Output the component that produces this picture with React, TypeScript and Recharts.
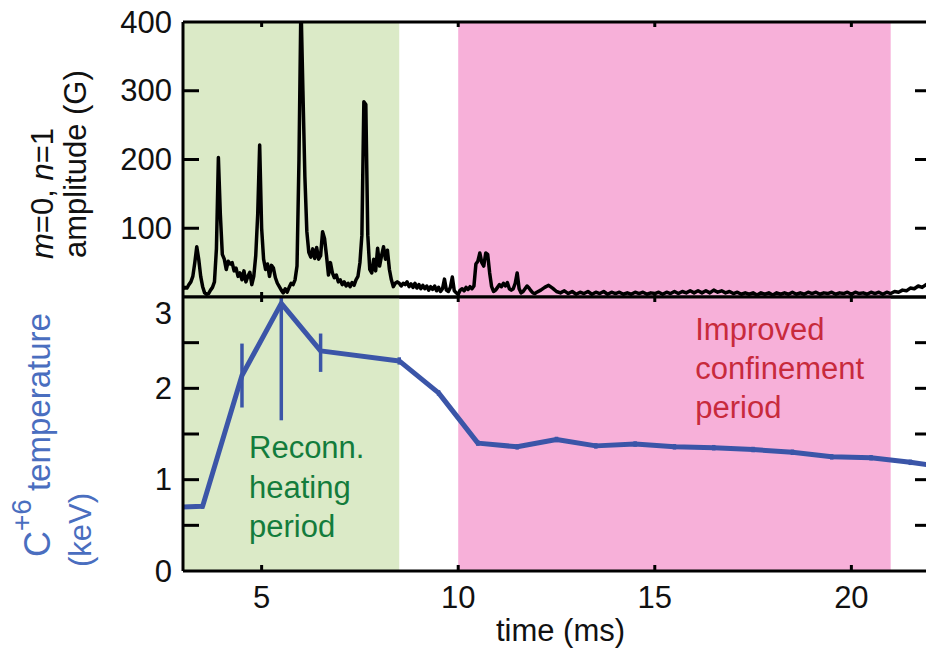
import React from 'react';
import { LineChart, Line, XAxis, YAxis, ReferenceArea, ErrorBar } from 'recharts';

const FONT = '"Liberation Sans", Arial, Helvetica, sans-serif';
const FS = 31;

// ---------- data ----------
const timeDomain: [number, number] = [3, 22];
const timeTicks = [5, 10, 15, 20];
const ampDomain: [number, number] = [0, 400];
const ampTicks = [100, 200, 300, 400];
const ampRightTicks = [100, 200, 300];
const tempDomain: [number, number] = [0, 3];
const tempTicks = [0, 0.5, 1, 1.5, 2, 2.5, 3];
const tempRightTicks = [0.5, 1, 1.5, 2, 2.5];
const reconnPeriod: [number, number] = [3, 8.5];
const confinementPeriod: [number, number] = [10, 21];

// m=0, n=1 amplitude (G) vs time (ms)
const ampSignal: [number, number][] = [
  [3.0, 12], [3.05, 14], [3.1, 13], [3.15, 18], [3.2, 22], [3.25, 30], [3.3, 50], [3.35, 73], [3.4, 55], [3.45, 30],
  [3.5, 15], [3.55, 6], [3.6, 4], [3.65, 5], [3.7, 10], [3.75, 14], [3.8, 22], [3.85, 70], [3.9, 203], [3.95, 120],
  [4.0, 62], [4.05, 55], [4.1, 40], [4.15, 52], [4.2, 48], [4.25, 50], [4.3, 38], [4.35, 42], [4.4, 30], [4.45, 35],
  [4.5, 25], [4.55, 38], [4.6, 22], [4.65, 30], [4.7, 36], [4.75, 18], [4.8, 30], [4.85, 60], [4.9, 120], [4.95, 221],
  [5.0, 100], [5.05, 55], [5.1, 40], [5.15, 48], [5.2, 30], [5.25, 46], [5.3, 42], [5.35, 28], [5.4, 20], [5.45, 15],
  [5.5, 10], [5.55, 6], [5.6, 12], [5.65, 7], [5.7, 14], [5.75, 20], [5.8, 18], [5.85, 25], [5.9, 45], [5.95, 200],
  [6.0, 430], [6.05, 300], [6.1, 175], [6.15, 95], [6.2, 65], [6.25, 58], [6.3, 70], [6.35, 56], [6.4, 72], [6.45, 55],
  [6.5, 60], [6.55, 95], [6.6, 85], [6.65, 60], [6.7, 32], [6.75, 50], [6.8, 35], [6.85, 28], [6.9, 32], [6.95, 22],
  [7.0, 25], [7.05, 18], [7.1, 22], [7.15, 16], [7.2, 20], [7.25, 15], [7.3, 21], [7.35, 17], [7.4, 25], [7.45, 30],
  [7.5, 50], [7.55, 90], [7.6, 284], [7.65, 280], [7.7, 90], [7.75, 40], [7.8, 35], [7.85, 55], [7.9, 38], [7.95, 71],
  [8.0, 45], [8.05, 60], [8.1, 73], [8.15, 55], [8.2, 68], [8.25, 40], [8.3, 25], [8.35, 15], [8.4, 20], [8.45, 22],
  [8.5, 20], [8.55, 16], [8.6, 20], [8.65, 18], [8.7, 22], [8.75, 15], [8.8, 19], [8.85, 14], [8.9, 20], [8.95, 13],
  [9.0, 18], [9.05, 12], [9.1, 17], [9.15, 12], [9.2, 16], [9.25, 10], [9.3, 15], [9.35, 11], [9.4, 16], [9.45, 9],
  [9.5, 14], [9.55, 8], [9.6, 12], [9.65, 26], [9.7, 10], [9.75, 8], [9.8, 14], [9.85, 29], [9.9, 9], [9.95, 6],
  [10.0, 4], [10.05, 10], [10.1, 12], [10.15, 9], [10.2, 14], [10.25, 11], [10.3, 15], [10.35, 12], [10.4, 16], [10.45, 48],
  [10.5, 52], [10.55, 64], [10.6, 50], [10.65, 45], [10.7, 64], [10.75, 62], [10.8, 35], [10.85, 15], [10.9, 8], [10.95, 10],
  [11.0, 14], [11.05, 18], [11.1, 15], [11.15, 20], [11.2, 16], [11.25, 21], [11.3, 12], [11.35, 10], [11.4, 12], [11.45, 20],
  [11.5, 35], [11.55, 12], [11.6, 6], [11.65, 8], [11.7, 12], [11.75, 16], [11.8, 13], [11.85, 9], [11.9, 6], [11.95, 5],
  [12.0, 7], [12.1, 10], [12.2, 14], [12.3, 17], [12.4, 13], [12.5, 8], [12.6, 6], [12.7, 9], [12.8, 5], [12.9, 8],
  [13.0, 4], [13.1, 7], [13.2, 5], [13.3, 8], [13.4, 4], [13.5, 7], [13.6, 5], [13.7, 8], [13.8, 4], [13.9, 7],
  [14.0, 5], [14.1, 7], [14.2, 4], [14.3, 6], [14.4, 4], [14.5, 7], [14.6, 5], [14.7, 7], [14.8, 4], [14.9, 6],
  [15.0, 5], [15.1, 7], [15.2, 4], [15.3, 7], [15.4, 5], [15.5, 8], [15.6, 5], [15.7, 8], [15.8, 6], [15.9, 9],
  [16.0, 6], [16.1, 9], [16.2, 6], [16.3, 9], [16.4, 6], [16.5, 10], [16.6, 7], [16.7, 9], [16.8, 6], [16.9, 8],
  [17.0, 5], [17.1, 7], [17.2, 4], [17.3, 6], [17.4, 4], [17.5, 6], [17.6, 3], [17.7, 6], [17.8, 4], [17.9, 6],
  [18.0, 3], [18.1, 6], [18.2, 4], [18.3, 6], [18.4, 4], [18.5, 7], [18.6, 4], [18.7, 6], [18.8, 4], [18.9, 7],
  [19.0, 5], [19.1, 7], [19.2, 4], [19.3, 6], [19.4, 5], [19.5, 7], [19.6, 4], [19.7, 6], [19.8, 5], [19.9, 7],
  [20.0, 4], [20.1, 7], [20.2, 5], [20.3, 6], [20.4, 4], [20.5, 7], [20.6, 5], [20.7, 7], [20.8, 4], [20.9, 7],
  [21.0, 5], [21.1, 8], [21.2, 7], [21.3, 10], [21.4, 9], [21.5, 13], [21.6, 12], [21.7, 16], [21.8, 14], [21.9, 18],
  [22.0, 16],
];

// C+6 temperature (keV)
const tempTime = [3.0, 3.5, 4.5, 5.5, 6.5, 8.5, 9.5, 10.5, 11.5, 12.5, 13.5, 14.5, 15.5, 16.5, 17.5, 18.5, 19.5, 20.5, 21.5, 22.5];
const tempValue = [0.70, 0.71, 2.14, 2.93, 2.41, 2.30, 1.95, 1.40, 1.36, 1.44, 1.37, 1.39, 1.36, 1.35, 1.33, 1.30, 1.25, 1.24, 1.19, 1.13];
const tempErrLow = [0, 0.03, 0.35, 1.28, 0.23, 0.04, 0.03, 0.03, 0.03, 0.03, 0.03, 0.03, 0.03, 0.03, 0.03, 0.03, 0.03, 0.03, 0.03, 0.03];
const tempErrHigh = [0, 0.03, 0.35, 0.07, 0.19, 0.04, 0.03, 0.03, 0.03, 0.03, 0.03, 0.03, 0.03, 0.03, 0.03, 0.03, 0.03, 0.03, 0.03, 0.03];

const ampData = ampSignal.map(([t, v]) => ({ t, v }));
const tempData = tempTime.map((t, i) => ({ t, T: tempValue[i], err: [tempErrLow[i], tempErrHigh[i]] }));

// ---------- styles ----------
const GREEN_BG = '#dbeac7';
const PINK_BG = '#f7b0d9';
const BLUE = '#3b55a8';
const LABEL_BLUE = '#4a6ebf';
const GREEN_TXT = '#137c3c';
const RED_TXT = '#c82a3c';

const CHART_W = 940;
const LEFT_W = 183;
const RIGHT_W = 10;

// ---------- tick renderers ----------
const makeLeftTick = (len: number, lineSkip: number[], labelVals: number[], labelShift: Record<string, number>) =>
  (props: any) => {
    const { x, y, payload } = props;
    const v = payload.value;
    const shift = labelShift[String(v)] || 0;
    return (
      <g>
        {!lineSkip.includes(v) && <line x1={x} x2={x + len} y1={y} y2={y} stroke="#000" strokeWidth={3} />}
        {labelVals.includes(v) && (
          <text x={x - 11} y={y + shift} textAnchor="end" dominantBaseline="central" fontFamily={FONT} fontSize={FS} fill="#111">
            {v}
          </text>
        )}
      </g>
    );
  };

const makeRightTick = (len: number) => (props: any) => {
  const { x, y } = props;
  return <line x1={x - len} x2={x} y1={y} y2={y} stroke="#000" strokeWidth={3} />;
};

const makeXTick = (dir: number, len: number, withLabel: boolean) => (props: any) => {
  const { x, y, payload } = props;
  return (
    <g>
      <line x1={x} x2={x} y1={y} y2={y + dir * len} stroke="#000" strokeWidth={3} />
      {withLabel && (
        <text x={x} y={y + 37} textAnchor="middle" fontFamily={FONT} fontSize={FS} fill="#111">
          {payload.value}
        </text>
      )}
    </g>
  );
};

const axisLine = { stroke: '#000', strokeWidth: 3 };

const reconnLabel = (p: any) => {
  const vb = p.viewBox || {};
  const x = vb.x + 66;
  const y0 = vb.y;
  return (
    <text fontFamily={FONT} fontSize={FS} fill={GREEN_TXT}>
      <tspan x={x} y={y0 + 161}>Reconn.</tspan>
      <tspan x={x} y={y0 + 201}>heating</tspan>
      <tspan x={x} y={y0 + 240}>period</tspan>
    </text>
  );
};

const improvedLabel = (p: any) => {
  const vb = p.viewBox || {};
  const x = vb.x + 237;
  const y0 = vb.y;
  return (
    <text fontFamily={FONT} fontSize={FS} fill={RED_TXT}>
      <tspan x={x} y={y0 + 43}>Improved</tspan>
      <tspan x={x} y={y0 + 82}>confinement</tspan>
      <tspan x={x} y={y0 + 121}>period</tspan>
    </text>
  );
};

const timeTitle = (p: any) => {
  const vb = p.viewBox || {};
  return (
    <text x={vb.x + vb.width / 2 + 4} y={vb.y + 70} textAnchor="middle" fontFamily={FONT} fontSize={FS} fill="#111">
      time (ms)
    </text>
  );
};

export default function App() {
  return (
    <div style={{ position: 'absolute', left: 0, top: 0, width: 926, height: 650, overflow: 'hidden', background: '#fff' }}>
      {/* Top panel: amplitude */}
      <div style={{ position: 'absolute', left: 0, top: 0 }}>
        <LineChart width={CHART_W} height={300} data={ampData} margin={{ top: 21, right: 0, bottom: 2, left: 0 }}>
          <XAxis xAxisId="top" orientation="top" dataKey="t" type="number" domain={timeDomain} allowDataOverflow
            ticks={timeTicks} interval={0} height={1} tickSize={0} tickMargin={0} tickLine={false}
            axisLine={axisLine} tick={makeXTick(1, 5, false)} />
          <XAxis xAxisId="bot" orientation="bottom" dataKey="t" type="number" domain={timeDomain} allowDataOverflow
            ticks={timeTicks} interval={0} height={1} tickSize={0} tickMargin={0} tickLine={false}
            axisLine={axisLine} tick={makeXTick(-1, 5, false)} />
          <YAxis yAxisId="l" orientation="left" type="number" domain={ampDomain} allowDataOverflow ticks={ampTicks}
            interval={0} width={LEFT_W} tickSize={0} tickMargin={0} tickLine={false} axisLine={axisLine}
            tick={makeLeftTick(16, [400], [100, 200, 300, 400], {})} />
          <YAxis yAxisId="r" orientation="right" type="number" domain={ampDomain} allowDataOverflow ticks={ampRightTicks}
            interval={0} width={RIGHT_W} tickSize={0} tickMargin={0} tickLine={false} axisLine={axisLine}
            tick={makeRightTick(15)} />
          <ReferenceArea xAxisId="bot" yAxisId="l" x1={reconnPeriod[0]} x2={reconnPeriod[1]} fill={GREEN_BG} fillOpacity={1} stroke="none" />
          <ReferenceArea xAxisId="bot" yAxisId="l" x1={confinementPeriod[0]} x2={confinementPeriod[1]} fill={PINK_BG} fillOpacity={1} stroke="none" />
          <Line xAxisId="bot" yAxisId="l" type="linear" dataKey="v" stroke="#000" strokeWidth={3.5} dot={false}
            isAnimationActive={false} strokeLinejoin="round" />
        </LineChart>
      </div>

      {/* Bottom panel: temperature */}
      <div style={{ position: 'absolute', left: 0, top: 280 }}>
        <LineChart width={CHART_W} height={370} data={tempData} margin={{ top: 16, right: 0, bottom: 19, left: 0 }}>
          <XAxis xAxisId="top" orientation="top" dataKey="t" type="number" domain={timeDomain} allowDataOverflow
            ticks={timeTicks} interval={0} height={1} tickSize={0} tickMargin={0} tickLine={false}
            axisLine={axisLine} tick={makeXTick(1, 5, false)} />
          <XAxis xAxisId="bot" orientation="bottom" dataKey="t" type="number" domain={timeDomain} allowDataOverflow
            ticks={timeTicks} interval={0} height={60} tickSize={0} tickMargin={0} tickLine={false}
            axisLine={axisLine} tick={makeXTick(-1, 6, true)} label={{ content: timeTitle }} />
          <YAxis yAxisId="l" orientation="left" type="number" domain={tempDomain} allowDataOverflow ticks={tempTicks}
            interval={0} width={LEFT_W} tickSize={0} tickMargin={0} tickLine={false} axisLine={axisLine}
            tick={makeLeftTick(16, [0, 3], [0, 1, 2, 3], { '3': 16 })} />
          <YAxis yAxisId="r" orientation="right" type="number" domain={tempDomain} allowDataOverflow ticks={tempRightTicks}
            interval={0} width={RIGHT_W} tickSize={0} tickMargin={0} tickLine={false} axisLine={axisLine}
            tick={makeRightTick(15)} />
          <ReferenceArea xAxisId="bot" yAxisId="l" x1={reconnPeriod[0]} x2={reconnPeriod[1]} fill={GREEN_BG} fillOpacity={1}
            stroke="none" label={reconnLabel} />
          <ReferenceArea xAxisId="bot" yAxisId="l" x1={confinementPeriod[0]} x2={confinementPeriod[1]} fill={PINK_BG} fillOpacity={1}
            stroke="none" label={improvedLabel} />
          <Line xAxisId="bot" yAxisId="l" type="linear" dataKey="T" stroke={BLUE} strokeWidth={5} dot={false}
            isAnimationActive={false} strokeLinejoin="round">
            <ErrorBar dataKey="err" direction="y" width={0} stroke={BLUE} strokeWidth={3.5} />
          </Line>
        </LineChart>
      </div>

      {/* Axis titles */}
      <svg width={183} height={650} style={{ position: 'absolute', left: 0, top: 0 }}>
        <text transform="translate(53,259) rotate(-90)" fontFamily={FONT} fontSize={FS} fill="#111">
          <tspan fontStyle="italic">m</tspan>
          <tspan>=0, </tspan>
          <tspan fontStyle="italic">n</tspan>
          <tspan>=1</tspan>
        </text>
        <text transform="translate(86,258) rotate(-90)" fontFamily={FONT} fontSize={FS} fill="#111">
          amplitude (G)
        </text>
        <text transform="translate(50,557) rotate(-90)" fontFamily={FONT} fill={LABEL_BLUE}>
          <tspan fontSize={36}>C</tspan>
          <tspan dy={-19} fontSize={28}>+6</tspan>
          <tspan dy={19} dx={8} fontSize={33}>temperature</tspan>
        </text>
        <text transform="translate(91,567) rotate(-90)" fontFamily={FONT} fontSize={FS} fill={LABEL_BLUE}>
          (keV)
        </text>
      </svg>
    </div>
  );
}
